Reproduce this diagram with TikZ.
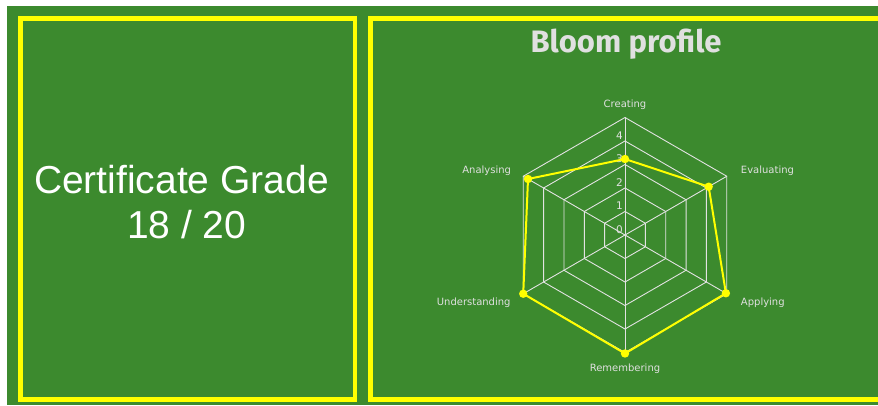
\documentclass[tikz,border=0pt]{standalone}
\usepackage{tkz-euclide}
\usepackage{tikz}
\usepackage{fontspec}
\usetikzlibrary{positioning}
\setmainfont{Liberation Sans}
\newfontfamily\titlefont{Fira Sans}
\newfontfamily\chartfont{DejaVu Sans}
\definecolor{boardgreen}{HTML}{3C8A2E}
\definecolor{paneyellow}{HTML}{FFFF00}
\definecolor{gridgray}{HTML}{E2E2E2}
\definecolor{titlegray}{HTML}{E0E0E0}

\begin{document}
\begin{tikzpicture}[x=1pt,y=1pt,
    pane/.style={draw=paneyellow,line width=4.5pt},
    gridline/.style={color=gridgray,line width=0.9pt},
    profile/.style={color=paneyellow,line width=2pt,line join=round},
    axislabel/.style={inner sep=0pt,text=titlegray,font=\chartfont\fontsize{10}{12}\selectfont},
    ticklabel/.style={inner sep=0pt,text=gridgray,font=\chartfont\fontsize{10.5}{12}\selectfont}]
    \useasboundingbox (0,0) rectangle (878,405);
    \fill[boardgreen] (7,0) rectangle (878,399);
    % the two panels
    \draw[pane] (20.5,5.3) rectangle (355,386.3);
    \draw[pane] (370.7,5.3) rectangle (900,386.3);
    \node[anchor=base,inner sep=0pt,text=white,font=\fontsize{39}{45}\selectfont] (gradetitle) at (181.5,211.7) {Certificate Grade};
    \node[anchor=base,inner sep=0pt,text=white,font=\fontsize{39}{45}\selectfont] (gradevalue) at (186.7,166.7) {18 / 20};
    \node[anchor=base,inner sep=0pt,text=titlegray,font=\titlefont\bfseries\fontsize{31}{36}\selectfont] (bloomtitle) at (626,352.3) {Bloom profile};
    % radar grid
    \tkzDefPoint(625,170){O}
    \foreach \k in {0,...,5}{
        \tkzDefShiftPoint[O](90:23.5*\k){Cr\k}
        \tkzDefShiftPoint[O](30:23.5*\k){Ev\k}
        \tkzDefShiftPoint[O](-30:23.5*\k){Ap\k}
        \tkzDefShiftPoint[O](-90:23.5*\k){Re\k}
        \tkzDefShiftPoint[O](210:23.5*\k){Un\k}
        \tkzDefShiftPoint[O](150:23.5*\k){An\k}
    }
    \foreach \k in {1,...,5}{
        \draw[gridline] (Cr\k) -- (Ev\k) -- (Ap\k) -- (Re\k) -- (Un\k) -- (An\k) -- cycle;
    }
    \tkzDrawSegments[gridline](O,Cr5 O,Ev5 O,Ap5 O,Re5 O,Un5 O,An5)
    \foreach \k in {0,...,4}{
        \node[ticklabel,above left=1.7pt and 5.5pt of Cr\k,anchor=base] (tick\k) {\k};
    }
    % profile values
    \tkzDefShiftPoint[O](90:76){vCr}
    \tkzDefShiftPoint[O](30:96.6){vEv}
    \tkzDefShiftPoint[O](-30:116.5){vAp}
    \tkzDefShiftPoint[O](-90:118.5){vRe}
    \tkzDefShiftPoint[O](210:117.5){vUn}
    \tkzDefShiftPoint[O](150:112){vAn}
    \draw[profile] (vCr) -- (vEv) -- (vAp) -- (vRe) -- (vUn) -- (vAn) -- cycle;
    \foreach \p in {vCr,vEv,vAp,vRe,vUn,vAn}{
        \fill[paneyellow] (\p) circle (4.2);
    }
    % axis names
    \node[axislabel,above=10pt of Cr5,anchor=base] (creating) {Creating};
    \node[axislabel,above right=3pt and 14pt of Ev5,anchor=base west] (evaluating) {Evaluating};
    \node[axislabel,below right=11.5pt and 14pt of Ap5,anchor=base west] (applying) {Applying};
    \node[axislabel,below=19pt of Re5,anchor=base] (remembering) {Remembering};
    \node[axislabel,below left=11.5pt and 12.5pt of Un5,anchor=base east] (understanding) {Understanding};
    \node[axislabel,above left=3pt and 12pt of An5,anchor=base east] (analysing) {Analysing};
\end{tikzpicture}
\end{document}
